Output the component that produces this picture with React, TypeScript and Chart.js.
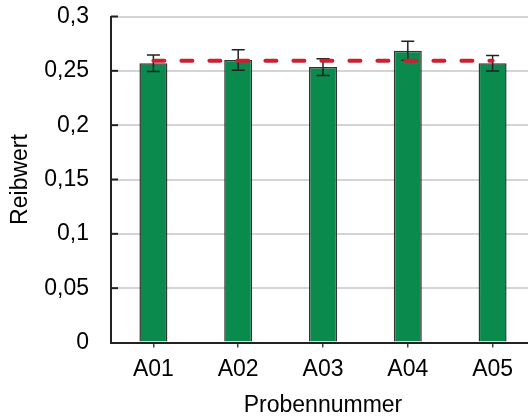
import React, { useEffect, useRef } from "react";
import { Chart, registerables } from "chart.js";

Chart.register(...registerables);

const categories = ["A01", "A02", "A03", "A04", "A05"];
const values = [0.257, 0.26, 0.2535, 0.2685, 0.257];
const errors = [0.0075, 0.0095, 0.0077, 0.0088, 0.0072];
const meanValue = 0.2592;
const meanLine = categories.map(() => meanValue);

const FONT = "'Liberation Sans', Arial, sans-serif";
const FS = 23;

const fmt = (v: number) => {
  const r = Math.round(v * 100) / 100;
  return String(r).replace(".", ",");
};

export default function App() {
  const ref = useRef<HTMLCanvasElement | null>(null);
  useEffect(() => {
    if (!ref.current) return;
    const errorPlugin = {
      id: "errorBars",
      afterDatasetDraw(chart: any, args: any) {
        if (args.index !== 0) return;
        const ctx = chart.ctx;
        const meta = chart.getDatasetMeta(0);
        const y = chart.scales.y;
        ctx.save();
        ctx.strokeStyle = "#222";
        ctx.lineWidth = 1.5;
        meta.data.forEach((bar: any, i: number) => {
          const x = bar.x;
          const top = y.getPixelForValue(values[i] + errors[i]);
          const bot = y.getPixelForValue(values[i] - errors[i]);
          ctx.beginPath();
          ctx.moveTo(x, top);
          ctx.lineTo(x, bot);
          ctx.moveTo(x - 6.5, top);
          ctx.lineTo(x + 6.5, top);
          ctx.moveTo(x - 6.5, bot);
          ctx.lineTo(x + 6.5, bot);
          ctx.stroke();
        });
        ctx.restore();
      },
    };
    const tickPlugin = {
      id: "innerTicks",
      afterDraw(chart: any) {
        const ctx = chart.ctx;
        const y = chart.scales.y;
        const a = chart.chartArea;
        ctx.save();
        ctx.strokeStyle = "#222";
        ctx.lineWidth = 2;
        y.ticks.forEach((t: any) => {
          if (t.value === 0) return;
          const py = y.getPixelForValue(t.value);
          ctx.beginPath();
          ctx.moveTo(a.left, py);
          ctx.lineTo(a.left + 7, py);
          ctx.stroke();
        });
        ctx.restore();
      },
    };
    const chart = new Chart(ref.current, {
      type: "bar",
      data: {
        labels: categories,
        datasets: [
          {
            type: "bar",
            data: values,
            backgroundColor: "#0b8a4e",
            borderColor: "#333",
            borderWidth: 1.5,
            barPercentage: 0.66,
            categoryPercentage: 0.5,
            order: 2,
          } as any,
          {
            type: "line",
            data: meanLine,
            borderColor: "#cc1f2f",
            borderWidth: 4,
            borderDash: [11, 17],
            borderCapStyle: "round",
            pointRadius: 0,
            fill: false,
            order: 1,
          } as any,
        ],
      },
      options: {
        animation: false,
        responsive: true,
        maintainAspectRatio: false,
        layout: { padding: { top: 16.5, right: 1, bottom: 0, left: 0 } },
        plugins: { legend: { display: false }, tooltip: { enabled: false } },
        scales: {
          x: {
            offset: true,
            afterFit: (s: any) => {
              s.height = 76.5;
            },
            grid: {
              offset: false,
              drawOnChartArea: false,
              drawTicks: true,
              tickLength: 5,
              color: "#444",
              lineWidth: 1.5,
            },
            border: { color: "#222", width: 2 },
            ticks: {
              color: "#000",
              padding: 8,
              maxRotation: 0,
              font: { family: FONT, size: FS },
            },
            title: {
              display: true,
              text: "Probennummer",
              color: "#000",
              padding: { top: 0, bottom: 0 },
              font: { family: FONT, size: FS },
            },
          },
          y: {
            min: 0,
            max: 0.3,
            afterFit: (s: any) => {
              s.width = 111;
              s.paddingTop = 0;
              s.paddingBottom = 0;
            },
            grid: {
              drawTicks: false,
              lineWidth: 2,
              color: (c: any) => (c.tick && c.tick.value === 0 ? "rgba(0,0,0,0)" : "#d4d4d4"),
            },
            border: { color: "#222", width: 2 },
            ticks: {
              stepSize: 0.05,
              color: "#000",
              padding: 22,
              font: { family: FONT, size: FS },
              callback: (v: any) => fmt(Number(v)),
            },
            title: {
              display: true,
              text: "Reibwert",
              color: "#000",
              padding: { top: 6.5, bottom: 0 },
              font: { family: FONT, size: FS },
            },
          },
        },
      },
      plugins: [errorPlugin, tickPlugin],
    });
    return () => chart.destroy();
  }, []);
  return (
    <div style={{ position: "fixed", left: 0, top: 0, width: 528, height: 418, overflow: "hidden", background: "#fff" }}>
      <div style={{ position: "relative", width: 536, height: 419 }}>
        <canvas ref={ref} />
      </div>
    </div>
  );
}
